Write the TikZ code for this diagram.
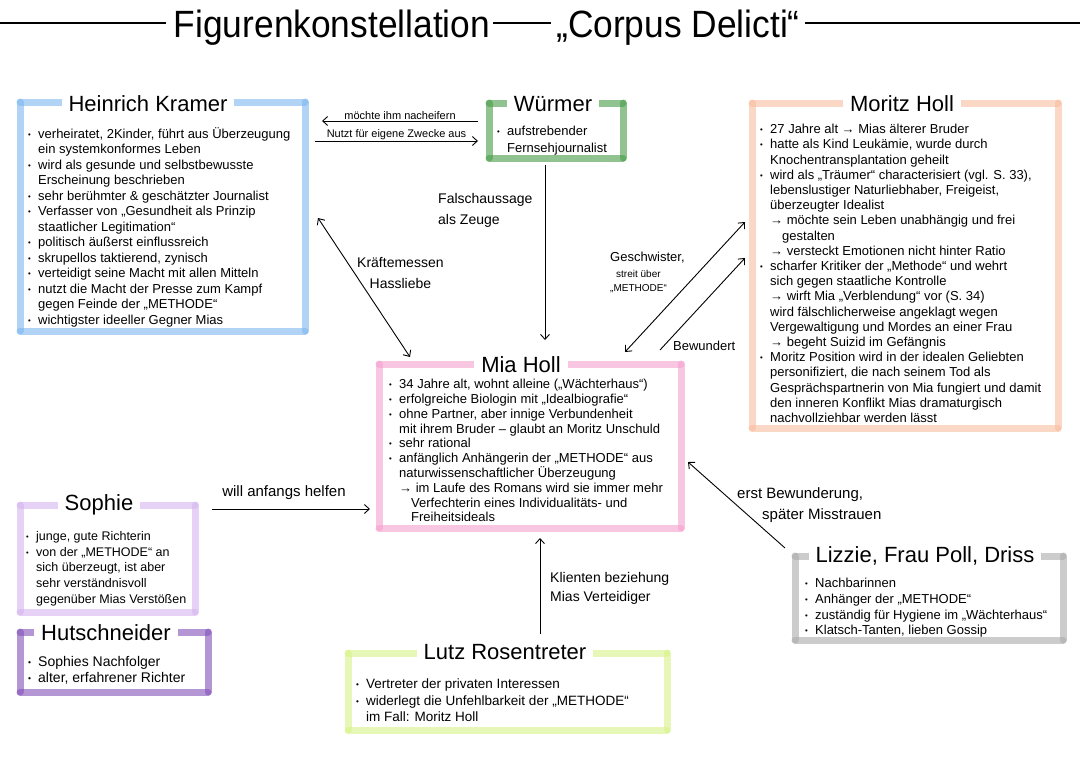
\documentclass[tikz,border=0pt]{standalone}
\usepackage{fontspec}
\setmainfont{Liberation Sans}
\usetikzlibrary{arrows.meta,calc}
\definecolor{cblue}{RGB}{125,182,240}
\definecolor{cgreen}{RGB}{70,155,70}
\definecolor{cpeach}{RGB}{248,188,158}
\definecolor{cpink}{RGB}{245,160,205}
\definecolor{clav}{RGB}{212,180,240}
\definecolor{cpurp}{RGB}{130,80,185}
\definecolor{cgray}{RGB}{170,170,170}
\definecolor{clime}{RGB}{215,242,135}
\newcommand\mybu{\makebox[10pt][l]{\raisebox{1pt}{\scalebox{.6}{•}}}}
\newcommand\myind{\hspace*{10pt}}
\newcommand\myindd{\hspace*{22pt}}
\newcommand\myframe[2]{%
  \draw[#2, line width=7pt, opacity=.6, line cap=round] (#1.north west) -- (#1.north east);
  \draw[#2, line width=7pt, opacity=.6, line cap=round] (#1.north east) -- (#1.south east);
  \draw[#2, line width=7pt, opacity=.6, line cap=round] (#1.south east) -- (#1.south west);
  \draw[#2, line width=7pt, opacity=.6, line cap=round] (#1.south west) -- (#1.north west);
}
\tikzset{
  frm/.style={inner sep=0pt, outer sep=0pt},
  ttl/.style={font=\fontsize{22}{24}\selectfont, fill=white, inner xsep=7pt, inner ysep=2pt},
  body/.style={font=\fontsize{13}{15.5}\selectfont, align=left, anchor=north west, inner sep=0pt},
  lbl/.style={font=\fontsize{14}{21}\selectfont, align=left, inner sep=1pt},
  small/.style={font=\fontsize{11}{13}\selectfont, inner sep=1pt},
  rule/.style={line width=2.5pt},
  arr/.style={line width=0.9pt, -{Straight Barb[length=5pt,width=9pt]}},
  arrb/.style={line width=0.9pt, {Straight Barb[length=5pt,width=9pt]}-{Straight Barb[length=5pt,width=9pt]}},
}
\begin{document}
\begin{tikzpicture}[x=1pt,y=-1pt]
\useasboundingbox (0,0) rectangle (1080,763);

% heading
\node[font=\fontsize{38}{40}\selectfont, inner sep=0pt, anchor=base] (head1) at (332,37) {\scalebox{.93}[1]{Figurenkonstellation}};
\node[font=\fontsize{38}{40}\selectfont, inner sep=0pt, anchor=base] (head2) at (678,37) {\scalebox{.93}[1]{„Corpus Delicti“}};
\coordinate (hl) at (0,23);
\coordinate (hr) at (1080,23);
\draw[rule] (hl) -- ([xshift=-8pt]head1.west |- hl);
\draw[rule] ([xshift=3pt]head1.east |- hl) -- ([xshift=-5pt]head2.west |- hl);
\draw[rule] ([xshift=5pt]head2.east |- hl) -- (hr);

% frames
\node[frm, minimum width=285pt, minimum height=229pt] (kramer) at (162.5,216.5) {};
\node[frm, minimum width=134pt, minimum height=55pt] (wuermer) at (556,130.5) {};
\node[frm, minimum width=306pt, minimum height=325pt] (moritz) at (905,265.5) {};
\node[frm, minimum width=302pt, minimum height=164pt] (mia) at (530,446) {};
\node[frm, minimum width=175pt, minimum height=107pt] (sophie) at (107.5,558.5) {};
\node[frm, minimum width=188pt, minimum height=60pt] (hutsch) at (114,662) {};
\node[frm, minimum width=268pt, minimum height=84pt] (lizzie) at (929,598) {};
\node[frm, minimum width=319pt, minimum height=77pt] (lutz) at (507.5,691.5) {};
\myframe{kramer}{cblue}
\myframe{wuermer}{cgreen}
\myframe{moritz}{cpeach}
\myframe{mia}{cpink}
\myframe{sophie}{clav}
\myframe{hutsch}{cpurp}
\myframe{lizzie}{cgray}
\myframe{lutz}{clime}

% titles
\node[ttl] (kramerT) at (148,104) {Heinrich Kramer};
\node[ttl] (wuermerT) at (553,104) {Würmer};
\node[ttl] (moritzT) at (902,104) {Moritz Holl};
\node[ttl] (miaT) at (521,365) {Mia Holl};
\node[ttl] (sophieT) at (99,505) {Sophie};
\node[ttl] (hutschT) at (106,633) {Hutschneider};
\node[ttl] (lizzieT) at (925,556) {Lizzie, Frau Poll, Driss};
\node[ttl] (lutzT) at (505,652) {Lutz Rosentreter};

% bodies
\node[body] (kramerB) at (28,127) {%
\mybu verheiratet, 2Kinder, führt aus Überzeugung\\
\myind ein systemkonformes Leben\\
\mybu wird als gesunde und selbstbewusste\\
\myind Erscheinung beschrieben\\
\mybu sehr berühmter \& geschätzter Journalist\\
\mybu Verfasser von „Gesundheit als Prinzip\\
\myind staatlicher Legitimation“\\
\mybu politisch äußerst einflussreich\\
\mybu skrupellos taktierend, zynisch\\
\mybu verteidigt seine Macht mit allen Mitteln\\
\mybu nutzt die Macht der Presse zum Kampf\\
\myind gegen Feinde der „METHODE“\\
\mybu wichtigster ideeller Gegner Mias};

\node[body, font=\fontsize{13}{17}\selectfont] (wuermerB) at (497,126) {%
\mybu aufstrebender\\
\myind Fernsehjournalist};

\node[body, font=\fontsize{13}{15.2}\selectfont] (moritzB) at (760,124) {%
\mybu 27 Jahre alt → Mias älterer Bruder\\
\mybu hatte als Kind Leukämie, wurde durch\\
\myind Knochentransplantation geheilt\\
\mybu wird als „Träumer“ characterisiert (vgl. S. 33),\\
\myind lebenslustiger Naturliebhaber, Freigeist,\\
\myind überzeugter Idealist\\
\myind → möchte sein Leben unabhängig und frei\\
\myindd gestalten\\
\myind → versteckt Emotionen nicht hinter Ratio\\
\mybu scharfer Kritiker der „Methode“ und wehrt\\
\myind sich gegen staatliche Kontrolle\\
\myind → wirft Mia „Verblendung“ vor (S. 34)\\
\myind wird fälschlicherweise angeklagt wegen\\
\myind Vergewaltigung und Mordes an einer Frau\\
\myind → begeht Suizid im Gefängnis\\
\mybu Moritz Position wird in der idealen Geliebten\\
\myind personifiziert, die nach seinem Tod als\\
\myind Gesprächspartnerin von Mia fungiert und damit\\
\myind den inneren Konflikt Mias dramaturgisch\\
\myind nachvollziehbar werden lässt};

\node[body, font=\fontsize{13}{14.8}\selectfont] (miaB) at (389,379) {%
\mybu 34 Jahre alt, wohnt alleine („Wächterhaus“)\\
\mybu erfolgreiche Biologin mit „Idealbiografie“\\
\mybu ohne Partner, aber innige Verbundenheit\\
\myind mit ihrem Bruder – glaubt an Moritz Unschuld\\
\mybu sehr rational\\
\mybu anfänglich Anhängerin der „METHODE“ aus\\
\myind naturwissenschaftlicher Überzeugung\\
\myind → im Laufe des Romans wird sie immer mehr\\
\myindd Verfechterin eines Individualitäts- und\\
\myindd Freiheitsideals};

\node[body, font=\fontsize{12.5}{15.8}\selectfont] (sophieB) at (26,531) {%
\mybu junge, gute Richterin\\
\mybu von der „METHODE“ an\\
\myind sich überzeugt, ist aber\\
\myind sehr verständnisvoll\\
\myind gegenüber Mias Verstößen};

\node[body, font=\fontsize{14}{16}\selectfont] (hutschB) at (28,656) {%
\mybu Sophies Nachfolger\\
\mybu alter, erfahrener Richter};

\node[body, font=\fontsize{13}{15.7}\selectfont] (lizzieB) at (805,578) {%
\mybu Nachbarinnen\\
\mybu Anhänger der „METHODE“\\
\mybu zuständig für Hygiene im „Wächterhaus“\\
\mybu Klatsch-Tanten, lieben Gossip};

\node[body, font=\fontsize{13.5}{16.5}\selectfont] (lutzB) at (356,679) {%
\mybu Vertreter der privaten Interessen\\
\mybu widerlegt die Unfehlbarkeit der „METHODE“\\
\myind im Fall: Moritz Holl};

% connectors
\draw[arr] ($(wuermer.north west)+(-11,18)$) -- ($(kramer.north east)+(17,19)$)
  node[small, midway, above=0pt] (l1) {möchte ihm nacheifern};
\draw[arr] ($(kramer.north east)+(10,39)$) -- ($(wuermer.north west)+(-11,38)$)
  node[small, midway, above=0pt] (l2) {Nutzt für eigene Zwecke aus};
\draw[arr] ($(wuermer.south)+(-11,7)$) -- ($(mia.north)+(15,-24)$);
\node[lbl, anchor=west] (l3) at (437,210) {Falschaussage\\als Zeuge};
\draw[arrb] ($(kramer.east)+(13,1.5)$) -- ($(mia.north west)+(31,-7)$);
\node[lbl, anchor=west, align=center] (l4) at (356,273) {Kräftemessen\\Hassliebe};
\draw[arrb] ($(mia.north east)+(-56,-12)$) -- ($(moritz.west)+(-7,-43.5)$);
\node[inner sep=0pt, anchor=north west, align=left, font=\fontsize{10}{18}\selectfont] (l5) at (610,252)
  {{\fontsize{13}{15}\selectfont Geschwister,}\\[-2pt] \hspace*{6pt}streit über\\[-4pt] „METHODE“};
\draw[arr] ($(mia.north east)+(-21,-14)$) -- ($(moritz.west)+(-7,-7.5)$);
\node[lbl, anchor=west, font=\fontsize{13}{15}\selectfont] (l6) at (672,346) {Bewundert};
\draw[arr] ($(sophie.north east)+(17,4)$) -- ($(mia.south west)+(-9,-19)$);
\node[lbl, font=\fontsize{15}{18}\selectfont] (l7) at (284,493) {will anfangs helfen};
\draw[arr] ($(lizzie.north west)+(-10,-8)$) -- ($(mia.east)+(7,16)$);
\node[lbl, anchor=west, font=\fontsize{15}{21}\selectfont] (l8) at (736,505) {erst Bewunderung,\\\hspace*{25pt}später Misstrauen};
\draw[arr] ($(lutz.north)+(32.5,-19)$) -- ($(mia.south)+(10,10)$);
\node[lbl, anchor=west, font=\fontsize{14}{19}\selectfont] (l9) at (549,588) {Klienten beziehung\\Mias Verteidiger};
\end{tikzpicture}
\end{document}
